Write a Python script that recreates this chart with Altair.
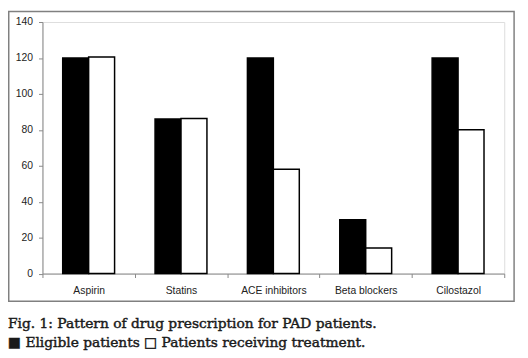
import altair as alt
import pandas as pd

drugs = ["Aspirin", "Statins", "ACE inhibitors", "Beta blockers", "Cilostazol"]
eligible = [120, 86, 120, 30, 120]
treated = [120.5, 86.3, 58, 14.3, 80]
series = ["Eligible patients", "Patients receiving treatment"]
caption1 = "Fig. 1: Pattern of drug prescription for PAD patients."
caption2 = "\u25a0 Eligible patients \u25a1 Patients receiving treatment."

rows = []
for d, e, t in zip(drugs, eligible, treated):
    rows.append({"drug": d, "series": series[0], "value": e})
    rows.append({"drug": d, "series": series[1], "value": t})
df = pd.DataFrame(rows)

bars = alt.Chart(df).mark_bar(stroke="#000", strokeWidth=1.5).encode(
    x=alt.X("drug:N", sort=drugs, title=None,
            scale=alt.Scale(paddingInner=0, paddingOuter=0),
            axis=alt.Axis(labelAngle=0, tickBand="extent", tickSize=4,
                          labelPadding=8, labelFont="Liberation Sans",
                          labelFontSize=10.5, labelColor="#222",
                          domainColor="#888", tickColor="#888")),
    xOffset=alt.XOffset("series:N", sort=series,
                        scale=alt.Scale(paddingInner=0, paddingOuter=0.78)),
    y=alt.Y("value:Q", title=None,
            scale=alt.Scale(domain=[0, 140]),
            axis=alt.Axis(values=[0, 20, 40, 60, 80, 100, 120, 140], grid=False,
                          tickSize=4, labelPadding=6, labelFont="Liberation Sans",
                          labelFontSize=10.5, labelColor="#222",
                          domainColor="#888", tickColor="#888")),
    color=alt.Color("series:N", sort=series,
                    scale=alt.Scale(domain=series, range=["#000000", "#ffffff"]),
                    legend=None),
)

frame = alt.Chart(pd.DataFrame({"k": [0]})).mark_rect(
    fill=None, stroke="#808080", strokeWidth=1.5
).encode(
    x=alt.value(-34.25), x2=alt.value(479), y=alt.value(-10.75), y2=alt.value(283.5)
)

cap1 = alt.Chart(pd.DataFrame({"t": [caption1]})).mark_text(
    align="left", baseline="alphabetic", font="DejaVu Serif", fontSize=14,
    color="#1a1a1a", stroke="#1a1a1a", strokeWidth=0.45
).encode(text="t:N", x=alt.value(-35), y=alt.value(310.5))
cap2 = alt.Chart(pd.DataFrame({"t": [caption2]})).mark_text(
    align="left", baseline="alphabetic", font="DejaVu Serif", fontSize=14,
    color="#1a1a1a", stroke="#1a1a1a", strokeWidth=0.45
).encode(text="t:N", x=alt.value(-35), y=alt.value(330.5))

chart = alt.layer(bars, frame, cap1, cap2).properties(
    width=469, height=255.5,
    autosize=alt.AutoSizeParams(type="none"),
    padding={"left": 35, "top": 11.5, "right": 16, "bottom": 83},
).configure_view(stroke=None).configure(background="white")

chart.save("out.html", embed_options={"renderer": "svg", "actions": False})
